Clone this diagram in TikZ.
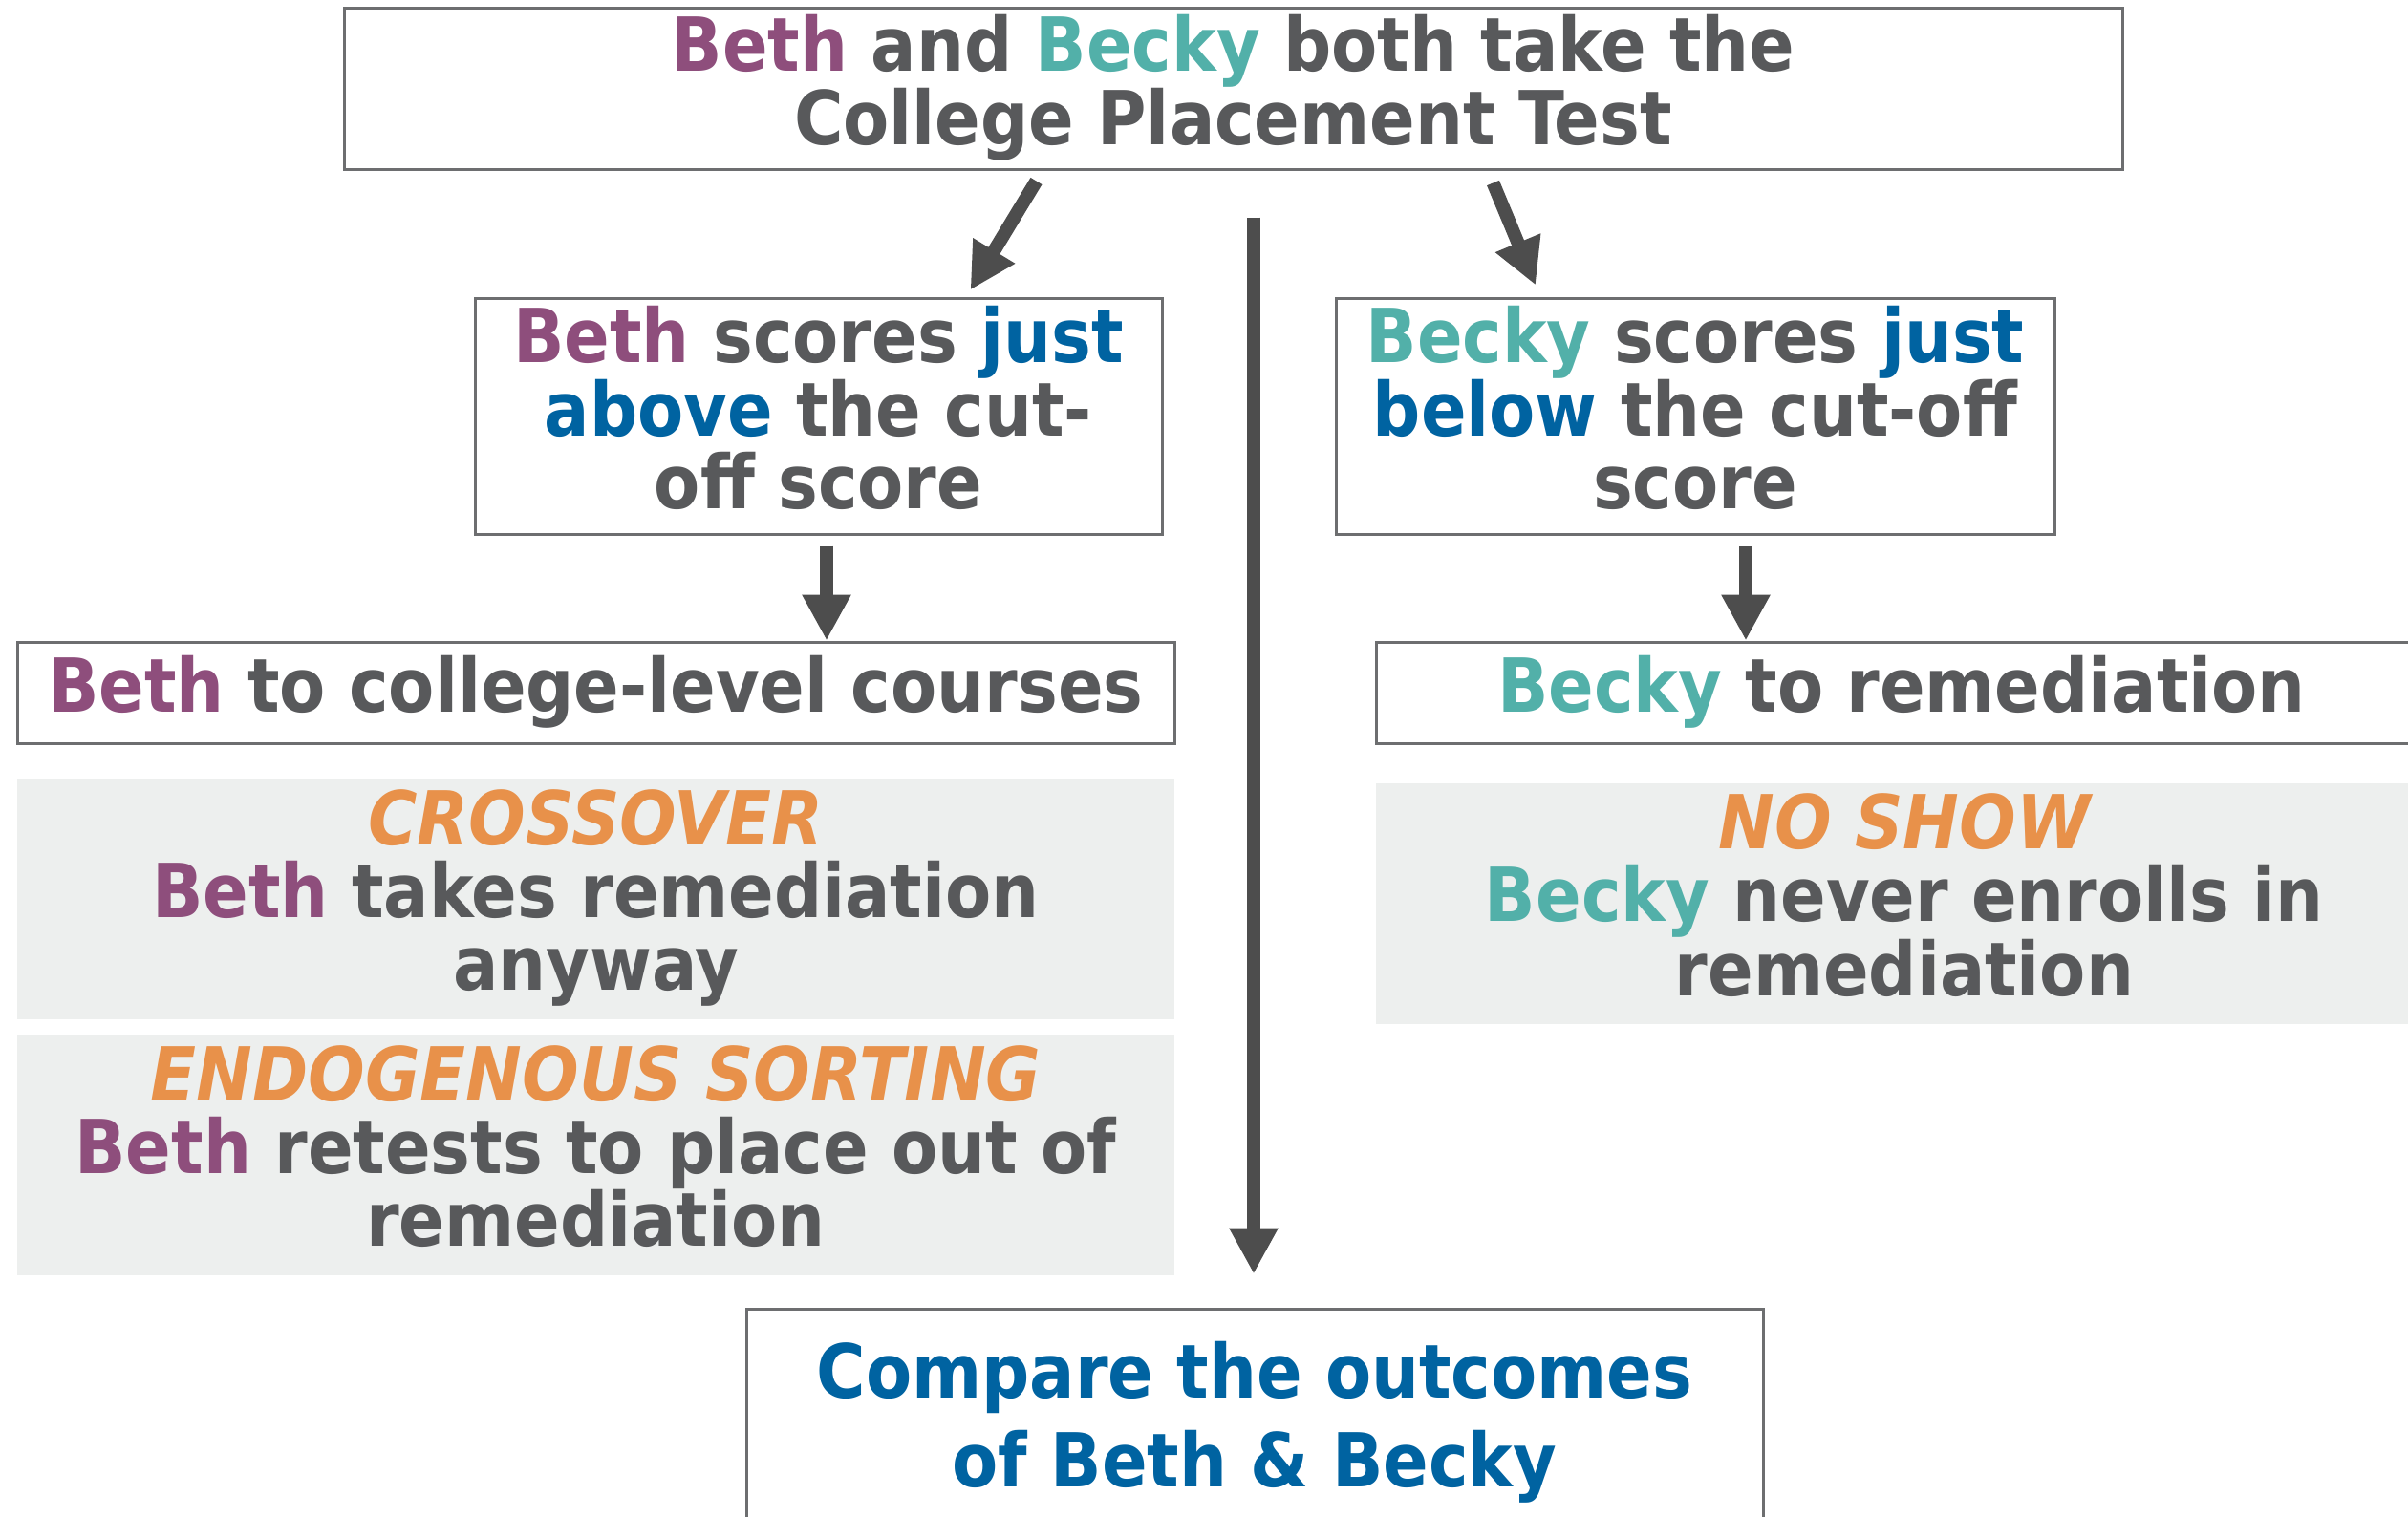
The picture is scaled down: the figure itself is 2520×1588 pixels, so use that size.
\documentclass[tikz,border=0pt]{standalone}
\usepackage{fontspec}
\setmainfont{DejaVu Sans Condensed}
\usetikzlibrary{arrows.meta}

\definecolor{bethcol}{HTML}{8E4E7C}
\definecolor{beckycol}{HTML}{52B0A9}
\definecolor{textgrey}{HTML}{58595B}
\definecolor{keyblue}{HTML}{0063A1}
\definecolor{tagorange}{HTML}{E8914A}
\definecolor{panelgrey}{HTML}{EDEFEE}
\definecolor{arrowgrey}{HTML}{4D4D4D}
\definecolor{boxline}{HTML}{6D6E70}

\begin{document}
\begin{tikzpicture}[x=1pt,y=-1pt,
    every node/.style={font=\fontsize{78}{76}\selectfont\bfseries, text=textgrey, align=center, inner sep=0pt, execute at end node=\rule[-19pt]{0pt}{19pt}},
    box/.style={draw=boxline, line width=3pt, fill=white},
    panel/.style={fill=panelgrey},
    arr/.style={draw=arrowgrey, line width=14pt, -{Triangle[length=48pt,width=48pt]}}]
    \useasboundingbox (0,0) rectangle (2520,1588);
    \clip (0,0) rectangle (2520,1588);

    % Test box
    \node[box, minimum width=1861pt, minimum height=169pt] (test) at (1290.5,92.5)
        {\textcolor{bethcol}{Beth} and \textcolor{beckycol}{Becky} both take the\\ College Placement Test};

    % Scores
    \node[box, minimum width=719pt, minimum height=247pt] (bethscore) at (856.5,435.5)
        {\textcolor{bethcol}{Beth} scores \textcolor{keyblue}{just}\\ \textcolor{keyblue}{above} the cut-\\ off score};
    \node[box, minimum width=752pt, minimum height=247pt] (beckyscore) at (1774,435.5)
        {\textcolor{beckycol}{Becky} scores \textcolor{keyblue}{just}\\ \textcolor{keyblue}{below} the cut-off\\ score};

    % Placements
    \node[box, minimum width=1211pt, minimum height=106pt] (bethcollege) at (623.5,725)
        {\textcolor{bethcol}{Beth} to college-level courses};
    \node[box, minimum width=1100pt, minimum height=106pt] (beckyremed) at (1990,725)
        {\textcolor{beckycol}{Becky} to remediation};

    % Threats
    \node[panel, minimum width=1211pt, minimum height=252pt] (crossover) at (623.5,941)
        {\textcolor{tagorange}{\itshape CROSSOVER}\\ \textcolor{bethcol}{Beth} takes remediation\\ anyway};
    \node[panel, minimum width=1211pt, minimum height=252pt] (sorting) at (623.5,1209)
        {\textcolor{tagorange}{\itshape ENDOGENOUS SORTING}\\ \textcolor{bethcol}{Beth} retests to place out of\\ remediation};
    \node[panel, minimum width=1106pt, minimum height=252pt] (noshow) at (1993,946)
        {\textcolor{tagorange}{\itshape NO SHOW}\\ \textcolor{beckycol}{Becky} never enrolls in\\ remediation};

    % Comparison
    \node[box, minimum width=1064pt, minimum height=240pt, text=keyblue, font=\fontsize{78}{93}\selectfont\bfseries] (compare) at (1313,1490)
        {Compare the outcomes\\ of Beth \& Becky};

    % Arrows
    \draw[arr] ([shift={(-206,11)}]test.south) -- ([shift={(159,-7)}]bethscore.north);
    \draw[arr] ([shift={(272,13)}]test.south) -- ([shift={(-167,-12)}]beckyscore.north);
    \draw[arr] ([shift={(21.5,49)}]test.south) -- ([shift={(-1,-35)}]compare.north);
    \draw[arr] ([shift={(8.5,11)}]bethscore.south) -- ([xshift=241.5]bethcollege.north);
    \draw[arr] ([shift={(53,11)}]beckyscore.south) -- ([xshift=-163]beckyremed.north);
\end{tikzpicture}
\end{document}
